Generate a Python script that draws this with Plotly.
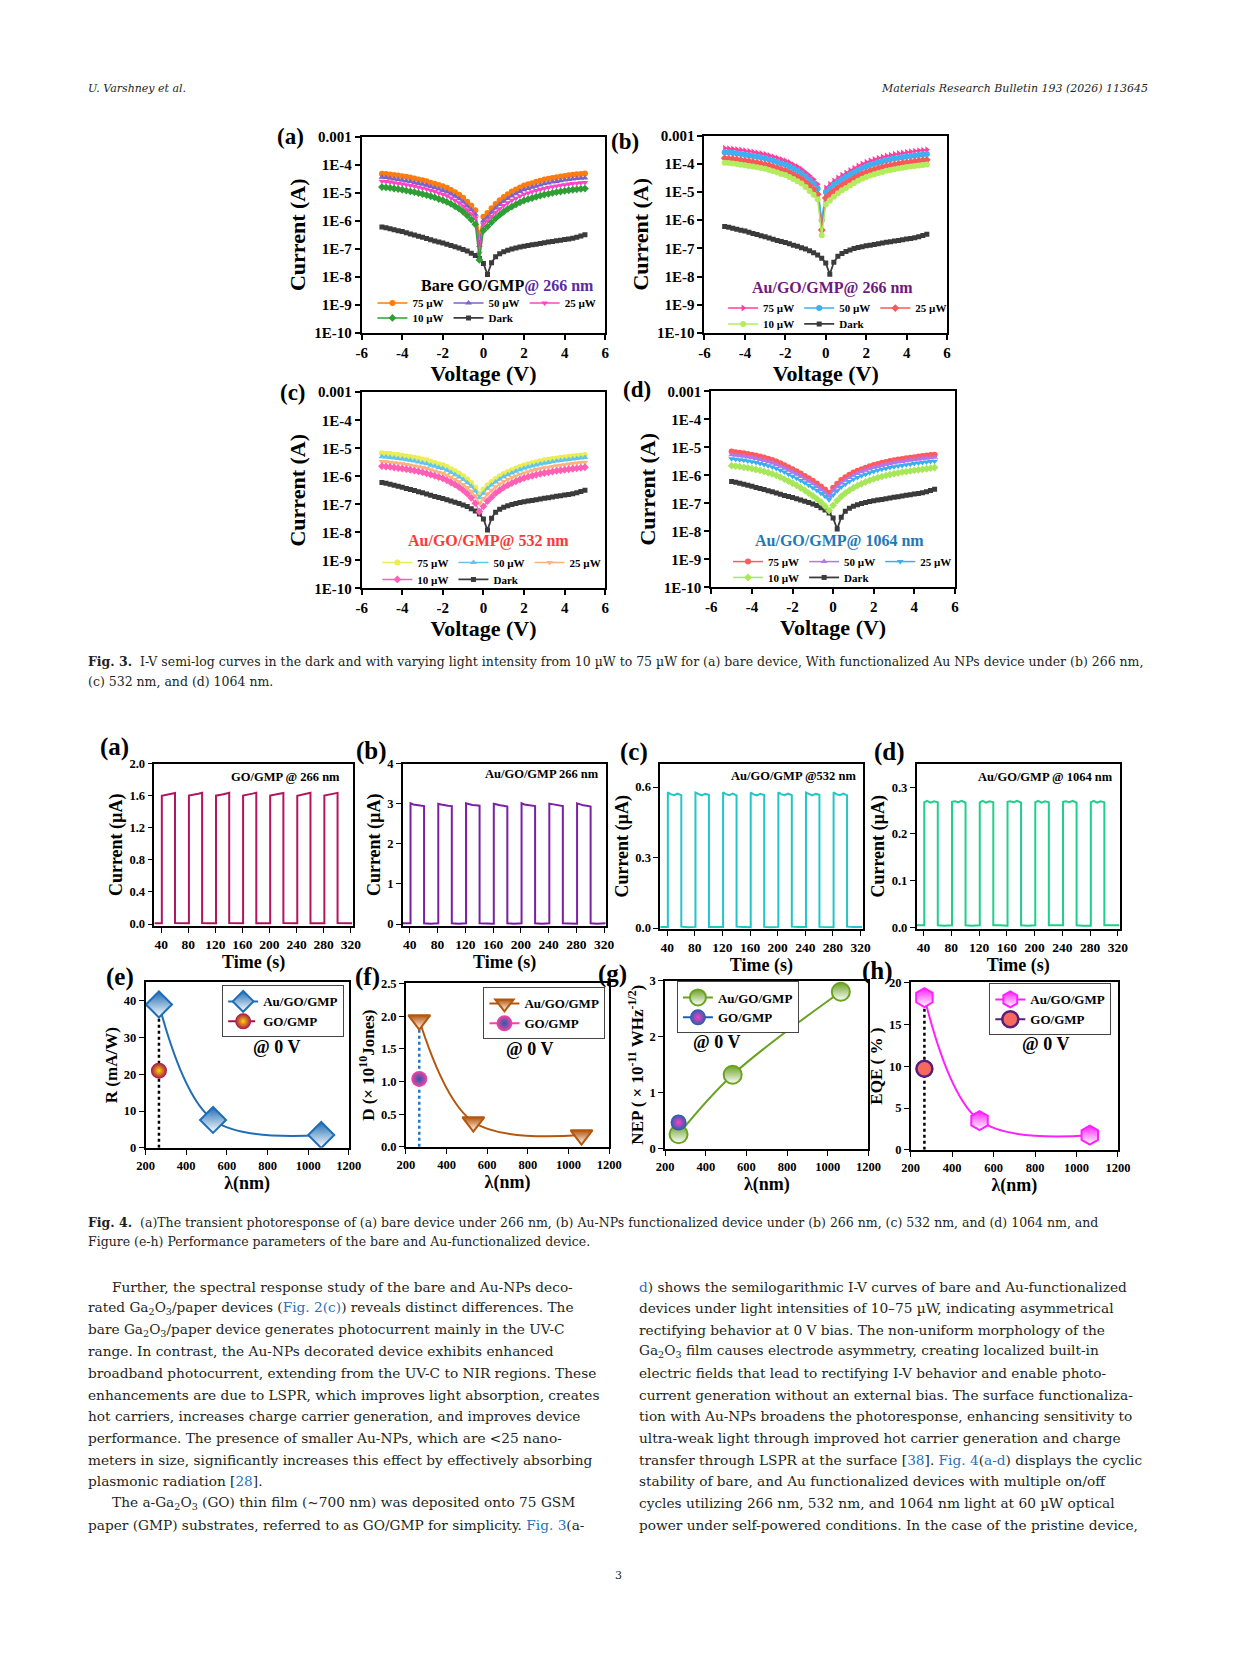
import plotly.graph_objects as go

W, H = 1241, 1654


def X(px):
    return px / W


def Y(py):
    return 1 - py / H


SERIF = "Liberation Serif"
BODY = "DejaVu Serif"

# ---------------- Fig. 3 : I-V data (A) ----------------
V = [-5.0, -4.8, -4.6, -4.4, -4.2, -4.0, -3.8, -3.6, -3.4, -3.2, -3.0, -2.8, -2.6,
     -2.4, -2.2, -2.0, -1.8, -1.6, -1.4, -1.2, -1.0, -0.8, -0.6, -0.4, -0.2, 0.0,
     0.2, 0.4, 0.6, 0.8, 1.0, 1.2, 1.4, 1.6, 1.8, 2.0, 2.2, 2.4, 2.6, 2.8, 3.0, 3.2,
     3.4, 3.6, 3.8, 4.0, 4.2, 4.4, 4.6, 4.8, 5.0]

dark = [6.0e-7, 5.6e-7, 5.2e-7, 4.8e-7, 4.4e-7, 4.1e-7, 3.7e-7, 3.4e-7, 3.1e-7, 2.8e-7,
        2.6e-7, 2.35e-7, 2.1e-7, 1.9e-7, 1.75e-7, 1.6e-7, 1.45e-7, 1.3e-7, 1.18e-7, 1.06e-7,
        9.5e-8, 8.3e-8, 7.0e-8, 5.8e-8, 4.5e-8, 3.0e-8,
        1.2e-8, 3.2e-8, 5.2e-8, 6.6e-8, 7.8e-8, 8.8e-8, 9.8e-8, 1.07e-7, 1.15e-7, 1.23e-7,
        1.3e-7, 1.38e-7, 1.46e-7, 1.55e-7, 1.64e-7, 1.73e-7, 1.82e-7, 1.92e-7, 2.02e-7, 2.13e-7,
        2.25e-7, 2.4e-7, 2.6e-7, 2.85e-7, 3.2e-7]

a75 = [4.8e-5, 4.7e-5, 4.5e-5, 4.3e-5, 4.1e-5, 3.9e-5, 3.7e-5, 3.5e-5, 3.2e-5, 3.0e-5,
       2.8e-5, 2.6e-5, 2.3e-5, 2.1e-5, 1.9e-5, 1.7e-5, 1.5e-5, 1.26e-5, 1.05e-5, 8.5e-6,
       6.6e-6, 4.8e-6, 3.5e-6, 2.4e-6, 3.0e-7, 1.4e-6,
       1.9e-6, 2.8e-6, 4.0e-6, 5.4e-6, 7.1e-6, 8.9e-6, 1.1e-5, 1.3e-5, 1.55e-5, 1.8e-5,
       2.0e-5, 2.2e-5, 2.45e-5, 2.7e-5, 2.95e-5, 3.15e-5, 3.4e-5, 3.6e-5, 3.8e-5, 4.0e-5,
       4.2e-5, 4.4e-5, 4.6e-5, 4.7e-5, 4.9e-5]
a50 = [3.6e-5, 3.5e-5, 3.3e-5, 3.1e-5, 2.95e-5, 2.8e-5, 2.65e-5, 2.5e-5, 2.3e-5, 2.15e-5,
       2.0e-5, 1.85e-5, 1.65e-5, 1.5e-5, 1.35e-5, 1.2e-5, 1.07e-5, 9.0e-6, 7.5e-6, 6.1e-6,
       4.7e-6, 3.4e-6, 2.5e-6, 1.7e-6, 1.3e-7, 1.0e-6,
       1.35e-6, 2.0e-6, 2.85e-6, 3.8e-6, 5.0e-6, 6.3e-6, 7.7e-6, 9.2e-6, 1.1e-5, 1.27e-5,
       1.42e-5, 1.57e-5, 1.72e-5, 1.9e-5, 2.08e-5, 2.22e-5, 2.4e-5, 2.55e-5, 2.7e-5, 2.83e-5,
       2.97e-5, 3.1e-5, 3.2e-5, 3.3e-5, 3.4e-5]
a25 = [2.6e-5, 2.5e-5, 2.4e-5, 2.3e-5, 2.15e-5, 2.05e-5, 1.95e-5, 1.8e-5, 1.7e-5, 1.57e-5,
       1.45e-5, 1.35e-5, 1.2e-5, 1.1e-5, 9.8e-6, 8.8e-6, 7.8e-6, 6.5e-6, 5.4e-6, 4.4e-6,
       3.4e-6, 2.5e-6, 1.8e-6, 1.25e-6, 7e-8, 7.5e-7,
       1.0e-6, 1.45e-6, 2.0e-6, 2.7e-6, 3.5e-6, 4.4e-6, 5.4e-6, 6.4e-6, 7.6e-6, 8.8e-6,
       9.8e-6, 1.08e-5, 1.2e-5, 1.32e-5, 1.43e-5, 1.53e-5, 1.65e-5, 1.75e-5, 1.85e-5, 1.95e-5,
       2.05e-5, 2.13e-5, 2.2e-5, 2.27e-5, 2.33e-5]
a10 = [1.6e-5, 1.55e-5, 1.5e-5, 1.42e-5, 1.35e-5, 1.28e-5, 1.2e-5, 1.12e-5, 1.05e-5, 9.7e-6,
       9.0e-6, 8.3e-6, 7.5e-6, 6.8e-6, 6.0e-6, 5.4e-6, 4.7e-6, 4.0e-6, 3.3e-6, 2.7e-6,
       2.1e-6, 1.55e-6, 1.1e-6, 7.5e-7, 4e-8, 4.5e-7,
       6.2e-7, 8.8e-7, 1.22e-6, 1.62e-6, 2.1e-6, 2.65e-6, 3.2e-6, 3.85e-6, 4.55e-6, 5.3e-6,
       5.9e-6, 6.5e-6, 7.2e-6, 7.9e-6, 8.6e-6, 9.2e-6, 9.9e-6, 1.05e-5, 1.11e-5, 1.17e-5,
       1.23e-5, 1.28e-5, 1.33e-5, 1.37e-5, 1.41e-5]

b75 = [3.6e-4, 3.5e-4, 3.4e-4, 3.25e-4, 3.1e-4, 2.95e-4, 2.8e-4, 2.65e-4, 2.5e-4, 2.35e-4,
       2.2e-4, 2.0e-4, 1.8e-4, 1.62e-4, 1.45e-4, 1.3e-4, 1.12e-4, 9.4e-5, 7.9e-5, 6.5e-5,
       5.0e-5, 3.8e-5, 2.8e-5, 1.9e-5, 4.0e-7, 1.4e-5,
       1.9e-5, 2.5e-5, 3.2e-5, 4.0e-5, 4.8e-5, 5.8e-5, 7.0e-5, 8.5e-5, 1.0e-4, 1.15e-4,
       1.3e-4, 1.44e-4, 1.6e-4, 1.76e-4, 1.92e-4, 2.05e-4, 2.2e-4, 2.34e-4, 2.46e-4, 2.6e-4,
       2.72e-4, 2.85e-4, 2.97e-4, 3.08e-4, 3.2e-4]
b50 = [2.6e-4, 2.52e-4, 2.45e-4, 2.34e-4, 2.23e-4, 2.12e-4, 2.0e-4, 1.9e-4, 1.8e-4, 1.7e-4,
       1.58e-4, 1.44e-4, 1.3e-4, 1.17e-4, 1.04e-4, 9.4e-5, 8.1e-5, 6.8e-5, 5.7e-5, 4.7e-5,
       3.6e-5, 2.7e-5, 2.0e-5, 1.35e-5, 1.0e-6, 1.0e-5,
       1.35e-5, 1.8e-5, 2.3e-5, 2.85e-5, 3.4e-5, 4.1e-5, 5.0e-5, 6.0e-5, 7.1e-5, 8.1e-5,
       9.2e-5, 1.02e-4, 1.13e-4, 1.24e-4, 1.35e-4, 1.45e-4, 1.55e-4, 1.65e-4, 1.74e-4, 1.83e-4,
       1.92e-4, 2.0e-4, 2.09e-4, 2.17e-4, 2.25e-4]
b25 = [1.6e-4, 1.55e-4, 1.5e-4, 1.44e-4, 1.37e-4, 1.3e-4, 1.24e-4, 1.17e-4, 1.1e-4, 1.04e-4,
       9.7e-5, 8.9e-5, 8.0e-5, 7.2e-5, 6.4e-5, 5.8e-5, 5.0e-5, 4.2e-5, 3.5e-5, 2.9e-5,
       2.2e-5, 1.7e-5, 1.25e-5, 8.4e-6, 4.5e-7, 6.2e-6,
       8.4e-6, 1.1e-5, 1.4e-5, 1.75e-5, 2.1e-5, 2.55e-5, 3.1e-5, 3.7e-5, 4.4e-5, 5.0e-5,
       5.7e-5, 6.3e-5, 7.0e-5, 7.7e-5, 8.4e-5, 9.0e-5, 9.6e-5, 1.02e-4, 1.08e-4, 1.14e-4,
       1.19e-4, 1.25e-4, 1.3e-4, 1.35e-4, 1.4e-4]
b10 = [1.1e-4, 1.07e-4, 1.03e-4, 9.9e-5, 9.4e-5, 9.0e-5, 8.5e-5, 8.1e-5, 7.6e-5, 7.1e-5,
       6.7e-5, 6.1e-5, 5.5e-5, 5.0e-5, 4.4e-5, 4.0e-5, 3.4e-5, 2.9e-5, 2.4e-5, 2.0e-5,
       1.5e-5, 1.1e-5, 8.0e-6, 5.5e-6, 2.9e-7, 3.6e-6,
       5.0e-6, 6.8e-6, 9.0e-6, 1.15e-5, 1.4e-5, 1.7e-5, 2.1e-5, 2.5e-5, 2.95e-5, 3.4e-5,
       3.9e-5, 4.3e-5, 4.75e-5, 5.2e-5, 5.7e-5, 6.1e-5, 6.5e-5, 6.9e-5, 7.3e-5, 7.7e-5,
       8.1e-5, 8.5e-5, 8.8e-5, 9.1e-5, 9.5e-5]

c75 = [6.6e-6, 6.4e-6, 6.2e-6, 5.9e-6, 5.7e-6, 5.4e-6, 5.1e-6, 4.9e-6, 4.6e-6, 4.3e-6,
       4.0e-6, 3.7e-6, 3.3e-6, 3.0e-6, 2.7e-6, 2.5e-6, 2.15e-6, 1.8e-6, 1.5e-6, 1.25e-6,
       1.0e-6, 7.8e-7, 5.8e-7, 4.0e-7, 2.4e-7, 3.4e-7,
       4.8e-7, 6.3e-7, 8.0e-7, 1.0e-6, 1.2e-6, 1.42e-6, 1.65e-6, 1.9e-6, 2.15e-6, 2.45e-6,
       2.7e-6, 2.95e-6, 3.2e-6, 3.45e-6, 3.7e-6, 3.9e-6, 4.1e-6, 4.35e-6, 4.55e-6, 4.75e-6,
       4.95e-6, 5.15e-6, 5.35e-6, 5.55e-6, 5.8e-6]
c50 = [5.0e-6, 4.85e-6, 4.7e-6, 4.5e-6, 4.3e-6, 4.1e-6, 3.9e-6, 3.7e-6, 3.5e-6, 3.25e-6,
       3.0e-6, 2.8e-6, 2.5e-6, 2.3e-6, 2.05e-6, 1.9e-6, 1.63e-6, 1.37e-6, 1.14e-6, 9.5e-7,
       7.6e-7, 5.9e-7, 4.4e-7, 3.0e-7, 1.7e-7, 2.5e-7,
       3.7e-7, 4.9e-7, 6.3e-7, 7.9e-7, 9.6e-7, 1.13e-6, 1.32e-6, 1.52e-6, 1.72e-6, 1.95e-6,
       2.15e-6, 2.35e-6, 2.55e-6, 2.75e-6, 2.95e-6, 3.12e-6, 3.3e-6, 3.5e-6, 3.65e-6, 3.85e-6,
       4.0e-6, 4.18e-6, 4.35e-6, 4.5e-6, 4.7e-6]
c25 = [3.4e-6, 3.3e-6, 3.2e-6, 3.05e-6, 2.9e-6, 2.8e-6, 2.65e-6, 2.5e-6, 2.35e-6, 2.2e-6,
       2.05e-6, 1.9e-6, 1.7e-6, 1.55e-6, 1.4e-6, 1.28e-6, 1.1e-6, 9.3e-7, 7.7e-7, 6.4e-7,
       5.1e-7, 4.0e-7, 2.9e-7, 2.0e-7, 1.1e-7, 1.6e-7,
       2.4e-7, 3.2e-7, 4.2e-7, 5.3e-7, 6.5e-7, 7.7e-7, 9.0e-7, 1.03e-6, 1.17e-6, 1.32e-6,
       1.46e-6, 1.6e-6, 1.74e-6, 1.87e-6, 2.0e-6, 2.12e-6, 2.25e-6, 2.37e-6, 2.48e-6, 2.6e-6,
       2.72e-6, 2.84e-6, 2.96e-6, 3.08e-6, 3.2e-6]
c10 = [2.3e-6, 2.23e-6, 2.15e-6, 2.06e-6, 1.97e-6, 1.88e-6, 1.79e-6, 1.7e-6, 1.59e-6, 1.49e-6,
       1.38e-6, 1.27e-6, 1.15e-6, 1.04e-6, 9.3e-7, 8.4e-7, 7.2e-7, 6.0e-7, 5.0e-7, 4.1e-7,
       3.2e-7, 2.4e-7, 1.7e-7, 1.1e-7, 5.5e-8, 8.5e-8,
       1.3e-7, 1.8e-7, 2.5e-7, 3.2e-7, 4.0e-7, 4.8e-7, 5.7e-7, 6.6e-7, 7.6e-7, 8.6e-7,
       9.5e-7, 1.04e-6, 1.13e-6, 1.22e-6, 1.31e-6, 1.39e-6, 1.47e-6, 1.55e-6, 1.63e-6, 1.71e-6,
       1.78e-6, 1.86e-6, 1.93e-6, 2.0e-6, 2.1e-6]

d75 = [7.0e-6, 6.7e-6, 6.4e-6, 6.1e-6, 5.8e-6, 5.4e-6, 5.1e-6, 4.7e-6, 4.3e-6, 3.9e-6,
       3.5e-6, 3.1e-6, 2.7e-6, 2.3e-6, 1.95e-6, 1.65e-6, 1.4e-6, 1.15e-6, 9.5e-7, 7.8e-7,
       6.4e-7, 5.1e-7, 4.0e-7, 3.1e-7, 2.4e-7, 3.6e-7,
       5.0e-7, 6.8e-7, 8.5e-7, 1.05e-6, 1.25e-6, 1.45e-6, 1.65e-6, 1.87e-6, 2.1e-6, 2.35e-6,
       2.55e-6, 2.78e-6, 3.0e-6, 3.22e-6, 3.45e-6, 3.65e-6, 3.85e-6, 4.05e-6, 4.25e-6, 4.45e-6,
       4.65e-6, 4.85e-6, 5.05e-6, 5.25e-6, 5.4e-6]
d50 = [5.4e-6, 5.2e-6, 5.0e-6, 4.75e-6, 4.5e-6, 4.2e-6, 3.95e-6, 3.65e-6, 3.35e-6, 3.05e-6,
       2.75e-6, 2.4e-6, 2.1e-6, 1.8e-6, 1.52e-6, 1.28e-6, 1.09e-6, 9.0e-7, 7.4e-7, 6.1e-7,
       5.0e-7, 4.0e-7, 3.1e-7, 2.4e-7, 1.8e-7, 2.8e-7,
       3.9e-7, 5.3e-7, 6.7e-7, 8.4e-7, 1.0e-6, 1.17e-6, 1.34e-6, 1.52e-6, 1.7e-6, 1.9e-6,
       2.07e-6, 2.25e-6, 2.43e-6, 2.6e-6, 2.8e-6, 2.96e-6, 3.12e-6, 3.28e-6, 3.44e-6, 3.6e-6,
       3.77e-6, 3.93e-6, 4.1e-6, 4.25e-6, 4.4e-6]
d25 = [3.9e-6, 3.75e-6, 3.6e-6, 3.42e-6, 3.25e-6, 3.05e-6, 2.85e-6, 2.65e-6, 2.42e-6, 2.2e-6,
       1.98e-6, 1.75e-6, 1.52e-6, 1.3e-6, 1.1e-6, 9.3e-7, 7.9e-7, 6.5e-7, 5.4e-7, 4.4e-7,
       3.6e-7, 2.9e-7, 2.3e-7, 1.8e-7, 1.35e-7, 2.0e-7,
       2.8e-7, 3.8e-7, 4.8e-7, 6.0e-7, 7.2e-7, 8.4e-7, 9.6e-7, 1.1e-6, 1.23e-6, 1.37e-6,
       1.5e-6, 1.63e-6, 1.76e-6, 1.89e-6, 2.02e-6, 2.14e-6, 2.26e-6, 2.38e-6, 2.5e-6, 2.62e-6,
       2.74e-6, 2.86e-6, 2.98e-6, 3.09e-6, 3.2e-6]
d10 = [2.2e-6, 2.12e-6, 2.03e-6, 1.93e-6, 1.83e-6, 1.72e-6, 1.61e-6, 1.49e-6, 1.37e-6, 1.24e-6,
       1.12e-6, 9.9e-7, 8.6e-7, 7.3e-7, 6.2e-7, 5.2e-7, 4.4e-7, 3.6e-7, 2.9e-7, 2.3e-7,
       1.85e-7, 1.45e-7, 1.1e-7, 8.0e-8, 5.5e-8, 8.5e-8,
       1.25e-7, 1.75e-7, 2.3e-7, 2.9e-7, 3.6e-7, 4.3e-7, 5.0e-7, 5.8e-7, 6.6e-7, 7.4e-7,
       8.2e-7, 9.0e-7, 9.8e-7, 1.06e-6, 1.14e-6, 1.21e-6, 1.29e-6, 1.36e-6, 1.43e-6, 1.5e-6,
       1.57e-6, 1.64e-6, 1.71e-6, 1.8e-6, 1.9e-6]

for arr in (dark, a75, a50, a25, a10, b75, b50, b25, b10, c75, c50, c25, c10, d75, d50, d25, d10):
    assert len(arr) == len(V)

iv_ticks = [1e-10, 1e-9, 1e-8, 1e-7, 1e-6, 1e-5, 1e-4, 1e-3]
iv_ticktext = ["1E-10", "1E-9", "1E-8", "1E-7", "1E-6", "1E-5", "1E-4", "0.001"]
v_ticks = [-6, -4, -2, 0, 2, 4, 6]
v_ticktext = ["-6", "-4", "-2", "0", "2", "4", "6"]

# ---------------- Fig. 4 (a-d): transient data (µA) ----------------
t_s = [30,
       41, 41, 45, 50, 55, 60.5, 60.5, 70,
       81, 81, 85, 90, 95, 100.5, 100.5, 110,
       121, 121, 125, 130, 135, 140.5, 140.5, 150,
       161, 161, 165, 170, 175, 180.5, 180.5, 190,
       201, 201, 205, 210, 215, 220.5, 220.5, 230,
       241, 241, 245, 250, 255, 260.5, 260.5, 270,
       281, 281, 285, 290, 295, 300.5, 300.5, 310,
       322]
cur_a = [0.010,
         0.010, 1.600, 1.608, 1.612, 1.622, 1.634, 0.012, 0.008,
         0.010, 1.602, 1.606, 1.615, 1.625, 1.636, 0.011, 0.009,
         0.010, 1.600, 1.610, 1.614, 1.624, 1.635, 0.012, 0.008,
         0.009, 1.603, 1.607, 1.613, 1.626, 1.637, 0.011, 0.010,
         0.010, 1.601, 1.609, 1.615, 1.623, 1.634, 0.012, 0.009,
         0.010, 1.600, 1.607, 1.612, 1.625, 1.636, 0.011, 0.008,
         0.010, 1.602, 1.608, 1.616, 1.624, 1.635, 0.012, 0.009,
         0.010]
cur_b = [0.02,
         0.02, 3.01, 2.98, 2.97, 2.96, 2.94, 0.02, 0.01,
         0.02, 3.00, 2.98, 2.96, 2.95, 2.94, 0.02, 0.01,
         0.02, 3.01, 2.99, 2.97, 2.96, 2.95, 0.02, 0.02,
         0.01, 3.00, 2.98, 2.96, 2.95, 2.93, 0.02, 0.01,
         0.02, 3.01, 2.98, 2.97, 2.96, 2.94, 0.02, 0.01,
         0.02, 3.00, 2.99, 2.97, 2.95, 2.94, 0.02, 0.02,
         0.01, 3.01, 2.98, 2.96, 2.95, 2.93, 0.02, 0.01,
         0.02]
cur_c = [0.005,
         0.005, 0.578, 0.570, 0.566, 0.572, 0.566, 0.006, 0.004,
         0.005, 0.577, 0.571, 0.565, 0.571, 0.567, 0.005, 0.004,
         0.005, 0.578, 0.570, 0.566, 0.572, 0.565, 0.006, 0.005,
         0.004, 0.577, 0.569, 0.565, 0.571, 0.566, 0.005, 0.004,
         0.005, 0.578, 0.570, 0.566, 0.572, 0.566, 0.006, 0.005,
         0.005, 0.577, 0.571, 0.565, 0.571, 0.567, 0.005, 0.004,
         0.004, 0.578, 0.570, 0.566, 0.572, 0.565, 0.006, 0.005,
         0.005]
cur_d = [0.004,
         0.004, 0.268, 0.271, 0.267, 0.270, 0.268, 0.004, 0.003,
         0.004, 0.269, 0.270, 0.268, 0.271, 0.267, 0.004, 0.003,
         0.004, 0.268, 0.271, 0.267, 0.270, 0.268, 0.004, 0.004,
         0.003, 0.269, 0.270, 0.268, 0.271, 0.267, 0.004, 0.003,
         0.004, 0.268, 0.271, 0.267, 0.270, 0.268, 0.004, 0.004,
         0.004, 0.269, 0.270, 0.268, 0.271, 0.267, 0.004, 0.003,
         0.003, 0.268, 0.271, 0.267, 0.270, 0.268, 0.004, 0.004,
         0.004]
for arr in (cur_a, cur_b, cur_c, cur_d):
    assert len(arr) == len(t_s)

# ---------------- Fig. 4 (e-h): performance data ----------------
wl_au = [266, 532, 1064]
wl_go = [266]
R_au = [39.0, 7.6, 3.5]
R_go = [21.0]
D_au = [1.94, 0.38, 0.18]
D_go = [1.04]
NEP_au = [0.26, 1.32, 2.80]
NEP_go = [0.47]
EQE_au = [18.2, 3.5, 1.75]
EQE_go = [9.7]

fig = go.Figure()


def sfx(n):
    return "" if n == 1 else str(n)


def base_axis(tick_size, lw=2.0):
    return dict(showline=True, linecolor="black", linewidth=lw, mirror=True,
                ticks="outside", ticklen=5, tickwidth=lw * 0.8, tickcolor="black",
                showgrid=False, zeroline=False,
                tickfont=dict(family=SERIF, size=tick_size, color="black", weight="bold"))


def set_axes(n, left, right, top, bottom, xkw, ykw):
    fig.update_layout({
        "xaxis" + sfx(n): dict(domain=[X(left), X(right)], anchor="y" + sfx(n), **xkw),
        "yaxis" + sfx(n): dict(domain=[Y(bottom), Y(top)], anchor="x" + sfx(n), **ykw),
    })


def title(text, size, standoff):
    return dict(text=text, font=dict(family=SERIF, size=size, color="black", weight="bold"),
                standoff=standoff)


# ---------- Fig. 3 panels ----------
iv_boxes = {1: (359, 607, 130, 328), 2: (708, 955, 129, 328),
            3: (359, 607, 388, 586), 4: (715, 963, 387, 585)}
for n, (l, r, t, b) in iv_boxes.items():
    xa = base_axis(15)
    xa.update(range=[-6, 6], tickvals=v_ticks, ticktext=v_ticktext,
              title=title("Voltage (V)", 22, 0))
    ya = base_axis(15)
    ya.update(type="log", range=[-10, -3], tickvals=iv_ticks, ticktext=iv_ticktext,
              title=title("Current (A)", 22, 2))
    set_axes(n, l, r, t, b, xa, ya)

iv_sets = [
    (1, [(a75, "75 µW", "#fb7d10", "circle"), (a50, "50 µW", "#7d62c8", "triangle-up"),
         (a25, "25 µW", "#ff45c5", "triangle-down"), (a10, "10 µW", "#2e9e35", "diamond")],
     (370, 298), (370, 313)),
    (2, [(b75, "75 µW", "#ff3f9e", "triangle-right"), (b50, "50 µW", "#3eaff2", "circle"),
         (b25, "25 µW", "#f55a5a", "diamond"), (b10, "10 µW", "#b4ec5e", "circle")],
     (727, 303), (727, 319)),
    (3, [(c75, "75 µW", "#ecec55", "circle"), (c50, "50 µW", "#5fc6f2", "triangle-up"),
         (c25, "25 µW", "#ffb27e", "triangle-down"), (c10, "10 µW", "#ff5fb5", "diamond")],
     (375, 560), (375, 577)),
    (4, [(d75, "75 µW", "#ff5b5b", "circle"), (d50, "50 µW", "#b277f0", "triangle-up"),
         (d25, "25 µW", "#3caef0", "triangle-down"), (d10, "10 µW", "#a8e65a", "diamond")],
     (732, 559), (732, 575)),
]
leg_id = 1
for n, curves, row1, row2 in iv_sets:
    k1 = "legend" + sfx(leg_id)
    k2 = "legend" + sfx(leg_id + 1)
    leg_id += 2
    fig.add_trace(go.Scatter(x=V, y=dark, name="Dark", mode="lines+markers",
                             line=dict(color="#3b3b3b", width=1.8),
                             marker=dict(symbol="square", size=5, color="#3b3b3b"),
                             xaxis="x" + sfx(n), yaxis="y" + sfx(n), legend=k2,
                             legendrank=2))
    for i, (yv, nm, col, sym) in enumerate(curves):
        fig.add_trace(go.Scatter(x=V, y=yv, name=nm, mode="lines+markers",
                                 line=dict(color=col, width=1.5),
                                 marker=dict(symbol=sym, size=6, color=col),
                                 xaxis="x" + sfx(n), yaxis="y" + sfx(n),
                                 legend=(k1 if i < 3 else k2), legendrank=(1 if i == 3 else i + 1)))
    for key, (lx, ly) in ((k1, row1), (k2, row2)):
        fig.update_layout({key: dict(x=X(lx), y=Y(ly), xanchor="left", yanchor="middle",
                                     orientation="h", bgcolor="rgba(0,0,0,0)", borderwidth=0,
                                     font=dict(family=SERIF, size=11, color="black", weight="bold"),
                                     itemwidth=30, traceorder="normal")})

# ---------- Fig. 4 transient panels ----------
tr_boxes = [
    (5, 148, 350, 763, 927, cur_a, "#b3145e", [-0.025, 2.0], [0, 0.4, 0.8, 1.2, 1.6, 2.0], ".1f"),
    (6, 401, 608, 763, 927, cur_b, "#7c1fa3", [-0.05, 4.0], [0, 1, 2, 3, 4], "d"),
    (7, 663, 869, 763, 930, cur_c, "#22c6c6", [-0.004, 0.70], [0.0, 0.3, 0.6], ".1f"),
    (8, 924, 1131, 763, 930, cur_d, "#1fcf8c", [-0.004, 0.351], [0.0, 0.1, 0.2, 0.3], ".1f"),
]
for n, l, r, t, b, cur, col, yr, yt, fmt in tr_boxes:
    xa = base_axis(13.5, 1.6)
    xa.update(range=[30, 323], tickvals=[40, 80, 120, 160, 200, 240, 280, 320],
              title=title("Time (s)", 18, 0))
    ya = base_axis(12.5, 1.6)
    ya.update(range=yr, tickvals=yt, tickformat=fmt, title=title("Current (µA)", 18, 2))
    set_axes(n, l, r, t, b, xa, ya)
    fig.add_trace(go.Scatter(x=t_s, y=cur, mode="lines", line=dict(color=col, width=2),
                             xaxis="x" + sfx(n), yaxis="y" + sfx(n), showlegend=False))

# ---------- Fig. 4 performance panels ----------
perf = [
    (9, 139, 346, 984, 1151, [0, 45], [0, 10, 20, 30, 40], "d", "R (mA/W)",
     R_au, R_go, "#1f6db5", "diamond", 20, "#a3104f", "#ffd400", None, "dash",
     "black", (217, 987)),
    (10, 404, 611, 985, 1150, [0, 2.5], [0, 0.5, 1.0, 1.5, 2.0, 2.5], ".1f",
     "D (× 10<sup>10</sup>Jones)",
     D_au, D_go, "#b5560c", "triangle-down", 19, "#ff3fa6", "#1f5fa8", None, "solid",
     "#1f77c4", (483, 989)),
    (11, 668, 875, 982, 1152, [0, 3], [0, 1, 2, 3], "d",
     "NEP ( × 10<sup>-11</sup> WHz<sup>-1/2</sup>)",
     NEP_au, NEP_go, "#6aa222", "circle", 18, "#1f5fb0", "#ff3fc0", None, "solid",
     None, (680, 983)),
    (12, 918, 1129, 984, 1153, [0, 20], [0, 5, 10, 15, 20], "d", "EQE ( % )",
     EQE_au, EQE_go, "#ff1fff", "hexagon", 19, "#f46a5e", None, "#5b1d7b", "solid",
     "black", (998, 985)),
]
for (n, l, r, t, b, yr, yt, fmt, ytitle, au, go_, col, sym, msz, gcol, gcenter, gline,
     gdash, dotcol, (lgx, lgy)) in perf:
    xa = base_axis(12.5, 1.6)
    xa.update(range=[200, 1200], tickvals=[200, 400, 600, 800, 1000, 1200],
              title=title("λ(nm)", 18, 0))
    ya = base_axis(12.5, 1.6)
    ya.update(range=yr, tickvals=yt, tickformat=fmt, title=title(ytitle, 17, 2))
    set_axes(n, l, r, t, b, xa, ya)
    key = "legend" + sfx(leg_id)
    leg_id += 1
    if dotcol:
        fig.add_trace(go.Scatter(x=[wl_au[0], wl_au[0]], y=[0, au[0]], mode="lines",
                                 line=dict(color=dotcol, width=2.5, dash="dot"),
                                 xaxis="x" + sfx(n), yaxis="y" + sfx(n), showlegend=False))
    fig.add_trace(go.Scatter(x=wl_au, y=au, name="Au/GO/GMP", mode="lines+markers",
                             line=dict(color=col, width=2, shape="spline", smoothing=1.0),
                             marker=dict(symbol=sym, size=msz, color=col,
                                         line=dict(color=col, width=2),
                                         gradient=dict(type="vertical", color="white")),
                             xaxis="x" + sfx(n), yaxis="y" + sfx(n), legend=key))
    gm = dict(symbol="circle", size=16, color=gcol)
    if gcenter:
        gm["gradient"] = dict(type="radial", color=gcenter)
        gm["line"] = dict(width=0)
    if gline:
        gm["line"] = dict(color=gline, width=2.5)
    fig.add_trace(go.Scatter(x=wl_go, y=go_, name="GO/GMP", mode="lines+markers",
                             line=dict(color=(gline or gcol), width=2, dash=gdash),
                             marker=gm, xaxis="x" + sfx(n), yaxis="y" + sfx(n), legend=key))
    fig.update_layout({key: dict(x=X(lgx), y=Y(lgy), xanchor="left", yanchor="top",
                                 orientation="v", bgcolor="white", bordercolor="#444",
                                 borderwidth=1, tracegroupgap=0, itemwidth=30,
                                 font=dict(family=SERIF, size=13, color="black", weight="bold"))})

# ---------- annotations ----------
ann = []


def txt(x, y, s, size, family=SERIF, color="black", xanchor="center", bold=False,
        angle=0, yanchor="middle"):
    ann.append(dict(x=X(x), y=Y(y), xref="paper", yref="paper", text=s, showarrow=False,
                    xanchor=xanchor, yanchor=yanchor, textangle=angle,
                    font=dict(family=family, size=size, color=color,
                              weight=("bold" if bold else "normal"))))


# panel labels
for lab, x, y, s in [("(a)", 287, 130, 23), ("(b)", 627, 135, 23), ("(c)", 289, 388, 23),
                     ("(d)", 639, 385, 23),
                     ("(a)", 107, 746, 25), ("(b)", 369, 750, 25), ("(c)", 636, 751, 25),
                     ("(d)", 896, 751, 25), ("(e)", 113, 978, 25), ("(f)", 365, 978, 25),
                     ("(g)", 614, 975, 25), ("(h)", 884, 972, 25)]:
    txt(x, y, lab, s, bold=True)

# in-plot titles (Fig. 3)
txt(507, 281, "Bare GO/GMP<span style='color:#5b2a9f'>@ 266 nm</span>", 16, bold=True)
txt(838, 283, "Au/GO/GMP@ 266 nm", 16, color="#6e1a7c", bold=True)
txt(488, 538, "Au/GO/GMP@ 532 nm", 16, color="#ff3838", bold=True)
txt(845, 538, "Au/GO/GMP@ 1064 nm", 16, color="#1f78b8", bold=True)

# in-plot titles (Fig. 4 a-d)
txt(339, 777, "GO/GMP @ 266 nm", 12.5, bold=True, xanchor="right")
txt(603, 773, "Au/GO/GMP 266 nm", 12.5, bold=True, xanchor="right")
txt(864, 775, "Au/GO/GMP @532 nm", 12.5, bold=True, xanchor="right")
txt(1126, 777, "Au/GO/GMP @ 1064 nm", 12.5, bold=True, xanchor="right")

for x, y in [(272, 1049), (530, 1051), (720, 1044), (1055, 1046)]:
    txt(x, y, "@ 0 V", 18, bold=True)

# page header / footer
txt(78, 81, "<i>U. Varshney et al.</i>", 11, family=BODY, color="#231f20", xanchor="left")
txt(1162, 81, "<i>Materials Research Bulletin 193 (2026) 113645</i>", 11, family=BODY,
    color="#231f20", xanchor="right")
txt(620, 1583, "3", 11, family=BODY, color="#231f20")

CAP = 12.5
txt(78, 660, "<b>Fig. 3.</b>  I-V semi-log curves in the dark and with varying light intensity from "
    "10 µW to 75 µW for (a) bare device, With functionalized Au NPs device under (b) 266 nm,",
    CAP, family=BODY, color="#231f20", xanchor="left")
txt(78, 680, "(c) 532 nm, and (d) 1064 nm.", CAP, family=BODY, color="#231f20", xanchor="left")
txt(78, 1226, "<b>Fig. 4.</b>  (a)The transient photoresponse of (a) bare device under 266 nm, "
    "(b) Au-NPs functionalized device under (b) 266 nm, (c) 532 nm, and (d) 1064 nm, and",
    CAP, family=BODY, color="#231f20", xanchor="left")
txt(78, 1246, "Figure (e-h) Performance parameters of the bare and Au-functionalized device.",
    CAP, family=BODY, color="#231f20", xanchor="left")


def link(s):
    return "<span style='color:#2a6ebb'>" + s + "</span>"


GA = "Ga<sub>2</sub>O<sub>3</sub>"
left_col = [
    (103, "Further, the spectral response study of the bare and Au-NPs deco-"),
    (78, "rated " + GA + "/paper devices (" + link("Fig. 2(c)") + ") reveals distinct differences. The"),
    (78, "bare " + GA + "/paper device generates photocurrent mainly in the UV-C"),
    (78, "range. In contrast, the Au-NPs decorated device exhibits enhanced"),
    (78, "broadband photocurrent, extending from the UV-C to NIR regions. These"),
    (78, "enhancements are due to LSPR, which improves light absorption, creates"),
    (78, "hot carriers, increases charge carrier generation, and improves device"),
    (78, "performance. The presence of smaller Au-NPs, which are &lt;25 nano-"),
    (78, "meters in size, significantly increases this effect by effectively absorbing"),
    (78, "plasmonic radiation [" + link("28") + "]."),
    (103, "The a-" + GA + " (GO) thin film (~700 nm) was deposited onto 75 GSM"),
    (78, "paper (GMP) substrates, referred to as GO/GMP for simplicity. " + link("Fig. 3") + "(a-"),
]
right_col = [
    link("d") + ") shows the semilogarithmic I-V curves of bare and Au-functionalized",
    "devices under light intensities of 10–75 µW, indicating asymmetrical",
    "rectifying behavior at 0 V bias. The non-uniform morphology of the",
    GA + " film causes electrode asymmetry, creating localized built-in",
    "electric fields that lead to rectifying I-V behavior and enable photo-",
    "current generation without an external bias. The surface functionaliza-",
    "tion with Au-NPs broadens the photoresponse, enhancing sensitivity to",
    "ultra-weak light through improved hot carrier generation and charge",
    "transfer through LSPR at the surface [" + link("38") + "]. " + link("Fig. 4") + "("
    + link("a-d") + ") displays the cyclic",
    "stability of bare, and Au functionalized devices with multiple on/off",
    "cycles utilizing 266 nm, 532 nm, and 1064 nm light at 60 µW optical",
    "power under self-powered conditions. In the case of the pristine device,",
]
BODY_SIZE = 13.7
for i, (x, s) in enumerate(left_col):
    txt(x, 1291 + i * 21.85, s, BODY_SIZE, family=BODY, color="#231f20", xanchor="left")
for i, s in enumerate(right_col):
    txt(639, 1291 + i * 21.85, s, BODY_SIZE, family=BODY, color="#231f20", xanchor="left")

fig.update_layout(width=W, height=H, margin=dict(l=0, r=0, t=0, b=0),
                  paper_bgcolor="white", plot_bgcolor="white", showlegend=True,
                  annotations=ann)

fig.write_html("out.html", config={"displayModeBar": False},
               post_script="document.body.style.margin='0';document.body.style.padding='0';")
